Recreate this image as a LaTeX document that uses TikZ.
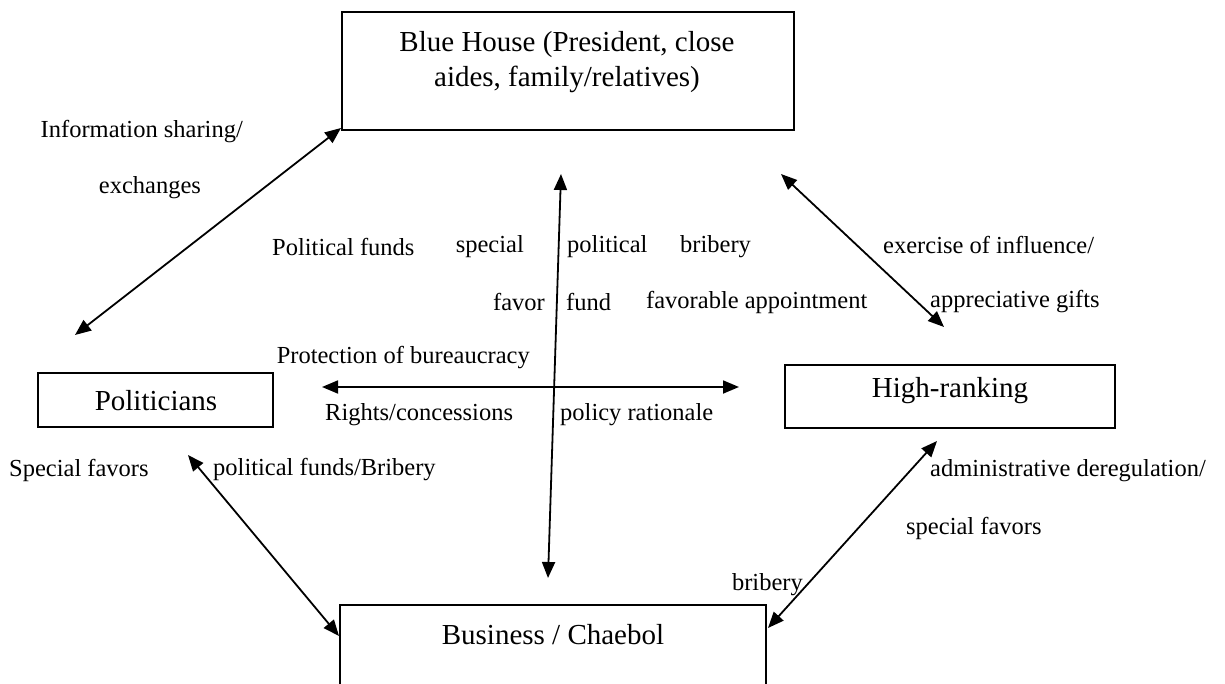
\documentclass[tikz,border=0pt]{standalone}
\usepackage{fontspec}
\setmainfont{Liberation Serif}
\usetikzlibrary{arrows.meta}
\begin{document}
\begin{tikzpicture}[x=1pt,y=-1pt,
  boxline/.style={draw=black,line width=1.8pt},
  boxtext/.style={font=\fontsize{29}{35}\selectfont,align=center,inner sep=0pt},
  lbl/.style={font=\fontsize{24.5}{28}\selectfont,inner sep=0pt},
  link/.style={line width=1.8pt,{Triangle[length=16pt,width=13pt]}-{Triangle[length=16pt,width=13pt]}}]
\useasboundingbox (0,0) rectangle (1225,684);
% boxes
\draw[boxline] (342,12) rectangle (794,130);
\draw[boxline] (38,373) rectangle (273,427);
\draw[boxline] (785,365) rectangle (1115,428);
\draw[boxline] (340,605) rectangle (766,740);
\node[boxtext] (bh) at (567,62) {Blue House (President, close\\aides, family/relatives)};
\node[boxtext] (pol) at (156,401) {Politicians};
\node[boxtext] (hr) at (950,391) {High-ranking};
\node[boxtext] (bus) at (553,635) {Business / Chaebol};
% connector end points
\coordinate (a1) at (341,128);
\coordinate (a2) at (75,335);
\coordinate (v1) at (561,174);
\coordinate (v2) at (548,578);
\coordinate (h1) at (322,387);
\coordinate (h2) at (739,387);
\coordinate (b1) at (781,174);
\coordinate (b2) at (944,327);
\coordinate (c1) at (188,455);
\coordinate (c2) at (339,636);
\coordinate (d1) at (937,441);
\coordinate (d2) at (768,628);
\draw[link] (a1) -- (a2);
\draw[link] (v1) -- (v2);
\draw[link] (h1) -- (h2);
\draw[link] (b1) -- (b2);
\draw[link] (c1) -- (c2);
\draw[link] (d1) -- (d2);
% labels
\node[lbl,anchor=east] (l1) at (243,132) {Information sharing/};
\node[lbl] (l2) at (150,188) {exchanges};
\node[lbl,anchor=west] (l3) at (272,247) {Political funds};
\node[lbl,anchor=east] (l4) at (524,247) {special};
\node[lbl,anchor=west] (l5) at (567,247) {political};
\node[lbl,anchor=west] (l6) at (680,247) {bribery};
\node[lbl,anchor=west] (l7) at (883,245) {exercise of influence/};
\node[lbl,anchor=east] (l8) at (545,302) {favor};
\node[lbl,anchor=west] (l9) at (566,302) {fund};
\node[lbl,anchor=west] (l10) at (646,302) {favorable appointment};
\node[lbl,anchor=west] (l11) at (930,302) {appreciative gifts};
\node[lbl,anchor=east] (l12) at (530,358) {Protection of bureaucracy};
\node[lbl,anchor=west] (l13) at (325,415) {Rights/concessions};
\node[lbl,anchor=west] (l14) at (560,415) {policy rationale};
\node[lbl,anchor=west] (l15) at (9,470) {Special favors};
\node[lbl,anchor=west] (l16) at (213,470) {political funds/Bribery};
\node[lbl,anchor=west] (l17) at (930,471) {administrative deregulation/};
\node[lbl,anchor=west] (l18) at (906,528) {special favors};
\node[lbl,anchor=east] (l19) at (803,585) {bribery};
\end{tikzpicture}
\end{document}
